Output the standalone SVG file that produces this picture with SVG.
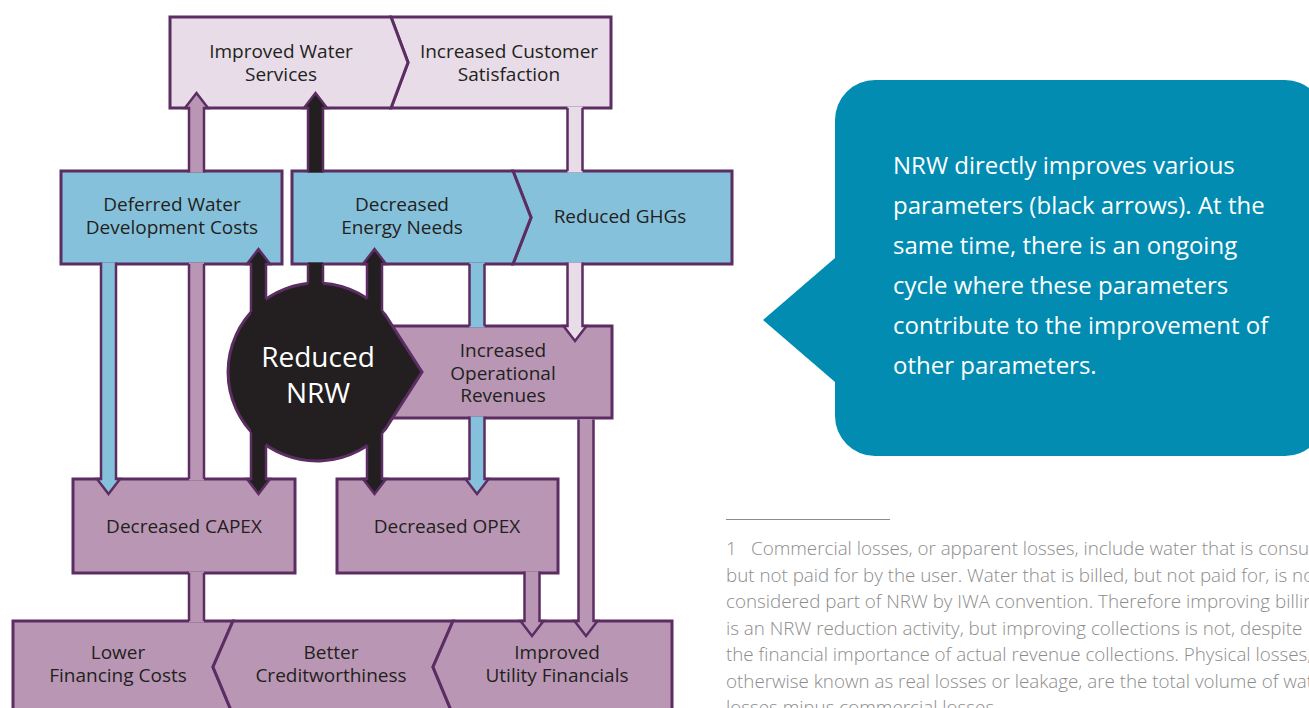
<svg xmlns="http://www.w3.org/2000/svg" width="1309" height="708" viewBox="0 0 1309 708">
  <style>
    .box { stroke: #5c2d62; stroke-width: 3; stroke-linejoin: miter; }
    .arr { stroke: #5c2d62; stroke-width: 2.5; stroke-linejoin: miter; }
    .side { fill: none; stroke: #5c2d62; stroke-width: 2.5; stroke-linejoin: miter; }
    .light { fill: #e7dce7; }
    .blue { fill: #86c1dc; }
    .mauve { fill: #b997b4; }
    .black { fill: #231f20; }
    .lbl { font-family: "Open Sans", "Noto Sans", sans-serif; font-size: 19px; fill: #231f20; text-anchor: middle; }
    .big { font-family: "Open Sans", "Noto Sans", sans-serif; font-size: 28px; fill: #ffffff; text-anchor: middle; }
    .note { font-family: "Open Sans", "Noto Sans", sans-serif; font-size: 24px; fill: #ffffff; }
    .foot { font-family: "Open Sans", "Noto Sans", sans-serif; font-weight: 300; font-size: 18.8px; fill: #8c8c8c; }
  </style>

  <!-- top row -->
  <g id="customer-satisfaction">
    <path class="box light" d="M391,17 H611 V108 H391 L408,62.5 Z"/>
    <text class="lbl" x="509" y="58">Increased Customer</text>
    <text class="lbl" x="509" y="81">Satisfaction</text>
  </g>
  <g id="water-services">
    <path class="box light" d="M170,17 H391 L408,62.5 L391,108 H170 Z"/>
    <text class="lbl" x="281" y="58">Improved Water</text>
    <text class="lbl" x="281" y="81">Services</text>
  </g>

  <!-- blue row -->
  <g id="deferred-costs">
    <rect class="box blue" x="61" y="171" width="221" height="93"/>
    <text class="lbl" x="172" y="211">Deferred Water</text>
    <text class="lbl" x="172" y="234">Development Costs</text>
  </g>
  <g id="reduced-ghgs">
    <path class="box blue" d="M513,171 H732 V264 H513 L531,217.5 Z"/>
    <text class="lbl" x="620" y="223">Reduced GHGs</text>
  </g>
  <g id="energy-needs">
    <path class="box blue" d="M292,171 H513 L531,217.5 L513,264 H292 Z"/>
    <text class="lbl" x="402" y="211">Decreased</text>
    <text class="lbl" x="402" y="234">Energy Needs</text>
  </g>

  <!-- revenues box, partly under the NRW hub -->
  <g id="operational-revenues">
    <rect class="box mauve" x="380" y="326" width="232" height="92"/>
    <text class="lbl" x="503" y="357">Increased</text>
    <text class="lbl" x="503" y="380">Operational</text>
    <text class="lbl" x="503" y="402">Revenues</text>
  </g>

  <!-- NRW hub: circle with a point to the right -->
  <g id="reduced-nrw">
    <path class="box black" d="M385.4,315 L422,372 L385.4,429 A89,89 0 1 1 385.4,315 Z"/>
    <text class="big" x="318" y="367">Reduced</text>
    <text class="big" x="318" y="403">NRW</text>
  </g>

  <!-- cost row -->
  <g id="capex">
    <rect class="box mauve" x="73" y="479" width="222" height="94"/>
    <text class="lbl" x="184" y="533">Decreased CAPEX</text>
  </g>
  <g id="opex">
    <rect class="box mauve" x="337" y="479" width="221" height="94"/>
    <text class="lbl" x="447" y="533">Decreased OPEX</text>
  </g>

  <!-- bottom row, chevrons pointing left -->
  <g id="financing-costs">
    <path class="box mauve" d="M13,621 H233 L213,667 L233,715 H13 Z"/>
    <text class="lbl" x="118" y="659">Lower</text>
    <text class="lbl" x="118" y="682">Financing Costs</text>
  </g>
  <g id="creditworthiness">
    <path class="box mauve" d="M233,621 H453 L433,667 L453,715 H233 L213,667 Z"/>
    <text class="lbl" x="331" y="659">Better</text>
    <text class="lbl" x="331" y="682">Creditworthiness</text>
  </g>
  <g id="utility-financials">
    <path class="box mauve" d="M453,621 H672 V715 H453 L433,667 Z"/>
    <text class="lbl" x="557" y="659">Improved</text>
    <text class="lbl" x="557" y="682">Utility Financials</text>
  </g>

  <!-- connectors: shaft pieces between boxes, heads overlapping the target edge -->
  <g id="connectors">
    <!-- financing costs up to water services -->
    <rect class="mauve" x="189" y="571.5" width="15" height="51"/>
    <path class="side" d="M189,573 V621 M204,573 V621"/>
    <rect class="mauve" x="189" y="262.5" width="15" height="218"/>
    <path class="side" d="M189,264 V479 M204,264 V479"/>
    <path class="arr mauve" d="M189,172.5 V108 H185 L196.5,93 L208,108 H204 V172.5"/>

    <!-- deferred costs to capex -->
    <path class="arr blue" d="M101,262.5 V479 H97 L108.5,494 L120,479 H116 V262.5"/>

    <!-- energy needs to opex -->
    <rect class="blue" x="469.5" y="262.5" width="15" height="65"/>
    <path class="side" d="M469.5,264 V326 M484.5,264 V326"/>
    <path class="arr blue" d="M469.5,416.5 V479 H465.5 L477,494 L488.5,479 H484.5 V416.5"/>

    <!-- customer satisfaction to operational revenues -->
    <rect class="light" x="567.5" y="106.5" width="15" height="66"/>
    <path class="side" d="M567.5,108 V171 M582.5,108 V171"/>
    <path class="arr light" d="M567.5,262.5 V326 H563.5 L575,341 L586.5,326 H582.5 V262.5"/>

    <!-- opex and revenues to utility financials -->
    <path class="arr mauve" d="M524.5,571.5 V621 H520.5 L532,636 L543.5,621 H539.5 V571.5"/>
    <path class="arr mauve" d="M578.5,419.5 V621 H574.5 L586,636 L597.5,621 H593.5 V419.5"/>

    <!-- NRW direct effects -->
    <rect class="black" x="308" y="262.5" width="15" height="28"/>
    <path class="side" d="M308,264 V283.5 M323,264 V283.2"/>
    <path class="arr black" d="M308,172.5 V108 H304 L315.5,93 L327,108 H323 V172.5"/>

    <path class="black" d="M251,320 V264 H247 L258.5,249 L270,264 H266 V320 Z"/>
    <path class="side" d="M251,312.3 V264 H247 L258.5,249 L270,264 H266 V299.1"/>
    <path class="black" d="M251,425 V479 H247 L258.5,494 L270,479 H266 V425 Z"/>
    <path class="side" d="M251,431.7 V479 H247 L258.5,494 L270,479 H266 V444.9"/>

    <path class="black" d="M367,320 V264 H363 L374.5,249 L386,264 H382 V320 Z"/>
    <path class="side" d="M367,298.4 V264 H363 L374.5,249 L386,264 H382 V311.2"/>
    <path class="black" d="M367,425 V479 H363 L374.5,494 L386,479 H382 V425 Z"/>
    <path class="side" d="M367,445.6 V479 H363 L374.5,494 L386,479 H382 V432.8"/>
  </g>

  <!-- explanatory callout -->
  <g id="callout">
    <path fill="#028cb2" d="M875,80 H1285 A40,40 0 0 1 1325,120 V416 A40,40 0 0 1 1285,456 H875 A40,40 0 0 1 835,416 V382 L763,320 L835,258 V120 A40,40 0 0 1 875,80 Z"/>
    <text class="note" x="893" y="174">NRW directly improves various</text>
    <text class="note" x="893" y="214">parameters (black arrows). At the</text>
    <text class="note" x="893" y="254">same time, there is an ongoing</text>
    <text class="note" x="893" y="294">cycle where these parameters</text>
    <text class="note" x="893" y="334">contribute to the improvement of</text>
    <text class="note" x="893" y="374">other parameters.</text>
  </g>

  <!-- footnote -->
  <g id="footnote">
    <line x1="726" y1="519.5" x2="890" y2="519.5" stroke="#8c8c8c" stroke-width="1"/>
    <text class="foot" x="726" y="555">1</text>
    <text class="foot" x="751" y="555">Commercial losses, or apparent losses, include water that is consumed</text>
    <text class="foot" x="726" y="581.5">but not paid for by the user. Water that is billed, but not paid for, is not</text>
    <text class="foot" x="726" y="608">considered part of NRW by IWA convention. Therefore improving billing</text>
    <text class="foot" x="726" y="634.5">is an NRW reduction activity, but improving collections is not, despite</text>
    <text class="foot" x="726" y="661">the financial importance of actual revenue collections. Physical losses,</text>
    <text class="foot" x="726" y="687.5">otherwise known as real losses or leakage, are the total volume of water</text>
    <text class="foot" x="726" y="714">losses minus commercial losses.</text>
  </g>
</svg>
